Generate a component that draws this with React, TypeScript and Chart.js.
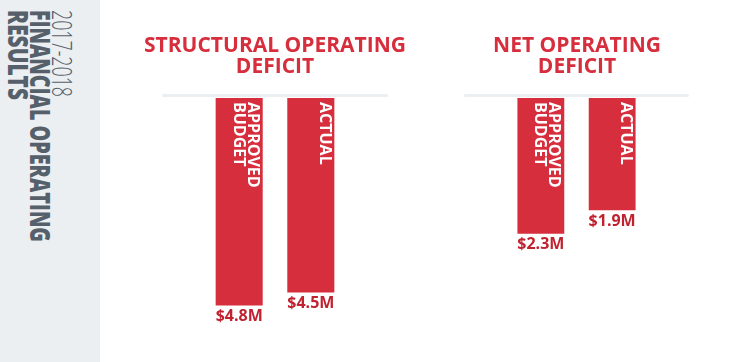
import React, { useEffect, useRef } from 'react';
import { Chart, registerables } from 'chart.js';

Chart.register(...registerables);

// ---- data ----
const fiscalYear = ['2017-2018'];
const seriesLabels = ['APPROVED BUDGET', 'ACTUAL'];
const structuralTitle = ['STRUCTURAL OPERATING', 'DEFICIT'];
const structuralValues = [4.8, 4.5]; // $ millions
const netTitle = ['NET OPERATING', 'DEFICIT'];
const netValues = [2.3, 1.9]; // $ millions
const sidebarLines = ['2017-2018', 'FINANCIAL OPERATING', 'RESULTS'];

// ---- styles ----
const RED = '#d72e3d';
const VALUE_RED = '#c0222f';
const RULE_GRAY = '#eceff2';
const SIDEBAR_BG = '#eceff1';
const SIDEBAR_TEXT = '#56606b';
const FONT = "'Open Sans', 'DejaVu Sans', sans-serif";
const SIDE_FONT = "'Open Sans', 'DejaVu Sans', sans-serif";

const decorPlugin = {
  id: 'deficitDecor',
  beforeDatasetsDraw(chart: any) {
    const { ctx, chartArea } = chart;
    ctx.save();
    ctx.strokeStyle = RULE_GRAY;
    ctx.lineWidth = 3;
    ctx.lineCap = 'round';
    const y = chartArea.top - 2.5;
    ctx.beginPath();
    ctx.moveTo(chartArea.left + 1.5, y);
    ctx.lineTo(chartArea.right - 1.5, y);
    ctx.stroke();
    ctx.restore();
  },
  afterDatasetsDraw(chart: any) {
    const { ctx } = chart;
    chart.data.datasets.forEach((ds: any, i: number) => {
      const meta = chart.getDatasetMeta(i);
      meta.data.forEach((bar: any, j: number) => {
        const { x, y, base, width } = bar.getProps(['x', 'y', 'base', 'width'], true);
        const top = Math.min(y, base);
        const bottom = Math.max(y, base);
        const right = x + width / 2;
        // rotated category label inside the bar
        ctx.save();
        ctx.font = `bold 16px ${FONT}`;
        ctx.fillStyle = '#ffffff';
        ctx.textAlign = 'left';
        ctx.textBaseline = 'alphabetic';
        ctx.translate(right - 3, top + 4);
        ctx.rotate(Math.PI / 2);
        String(ds.label)
          .split(' ')
          .forEach((line: string, k: number) => ctx.fillText(line, 0, 11.8 + k * 14));
        ctx.restore();
        // value label under the bar
        ctx.save();
        ctx.font = `bold 16px ${FONT}`;
        ctx.fillStyle = VALUE_RED;
        ctx.textAlign = 'center';
        ctx.textBaseline = 'alphabetic';
        ctx.fillText(`$${Number(ds.data[j]).toFixed(1)}M`, x, bottom + 15.5);
        ctx.restore();
      });
    });
  },
};

function DeficitChart(props: {
  title: string[];
  values: number[];
  yMax: number;
  left: number;
  sideLeft: number;
  sideRight: number;
}) {
  const ref = useRef<HTMLCanvasElement | null>(null);
  useEffect(() => {
    if (!ref.current) return;
    const hiddenAxis = (side: 'left' | 'right', w: number, extra: any = {}) => ({
      position: side,
      display: true,
      ticks: { display: false },
      grid: { display: false, drawTicks: false },
      border: { display: false },
      afterFit: (s: any) => {
        s.width = w;
      },
      ...extra,
    });
    const chart = new Chart(ref.current, {
      type: 'bar',
      data: {
        labels: fiscalYear,
        datasets: seriesLabels.map((label, i) => ({
          label,
          data: [props.values[i]],
          backgroundColor: RED,
          borderWidth: 0,
          categoryPercentage: 0.634,
          barPercentage: 0.657,
        })),
      },
      options: {
        responsive: false,
        animation: false,
        devicePixelRatio: 1,
        layout: { padding: { top: 0, bottom: 22, left: 0, right: 0 } },
        plugins: {
          legend: { display: false },
          tooltip: { enabled: false },
          title: {
            display: true,
            text: props.title,
            color: RED,
            font: { family: FONT, size: 21, weight: 'bold', lineHeight: 1.0 },
            padding: { top: 35.5, bottom: 20.5 },
          },
        },
        scales: {
          x: { display: false },
          y: hiddenAxis('left', props.sideLeft, { reverse: true, min: 0, max: props.yMax }),
          yRight: hiddenAxis('right', props.sideRight, { type: 'linear', min: 0, max: 1 }),
        },
      } as any,
      plugins: [decorPlugin],
    });
    return () => chart.destroy();
  }, []);
  return (
    <canvas
      ref={ref}
      width={290}
      height={362}
      style={{ position: 'absolute', left: props.left, top: 0, width: 290, height: 362 }}
    />
  );
}

const sideTargets = [87, 232, 90];
const sideWeights = [300, 800, 800];

function measure(text: string, weight: number) {
  const c = document.createElement('canvas').getContext('2d');
  if (!c) return text.length * 14;
  c.font = `${weight} 28px ${SIDE_FONT}`;
  return c.measureText(text).width || text.length * 14;
}

function Sidebar() {
  return (
    <div
      style={{
        position: 'absolute',
        left: 0,
        top: 0,
        width: 100,
        height: 362,
        background: SIDEBAR_BG,
      }}
    >
      {sidebarLines.map((line, i) => {
        const s = sideTargets[i] / measure(line, sideWeights[i]);
        return (
          <div
            key={line}
            style={{
              position: 'absolute',
              left: 73.9 - i * 22,
              top: 10,
              height: 22,
              lineHeight: '22px',
              fontFamily: SIDE_FONT,
              fontSize: 28,
              fontWeight: sideWeights[i],
              color: SIDEBAR_TEXT,
              whiteSpace: 'nowrap',
              transformOrigin: '0 0',
              transform: `rotate(90deg) scaleX(${s})`,
            }}
          >
            {line}
          </div>
        );
      })}
    </div>
  );
}

export default function App() {
  return (
    <div
      style={{
        position: 'fixed',
        left: 0,
        top: 0,
        width: 752,
        height: 362,
        background: '#ffffff',
        overflow: 'hidden',
      }}
    >
      <Sidebar />
      <DeficitChart title={structuralTitle} values={structuralValues} yMax={5.6} left={130} sideLeft={32} sideRight={32} />
      <DeficitChart title={netTitle} values={netValues} yMax={4.1} left={432} sideLeft={32} sideRight={33} />
    </div>
  );
}
